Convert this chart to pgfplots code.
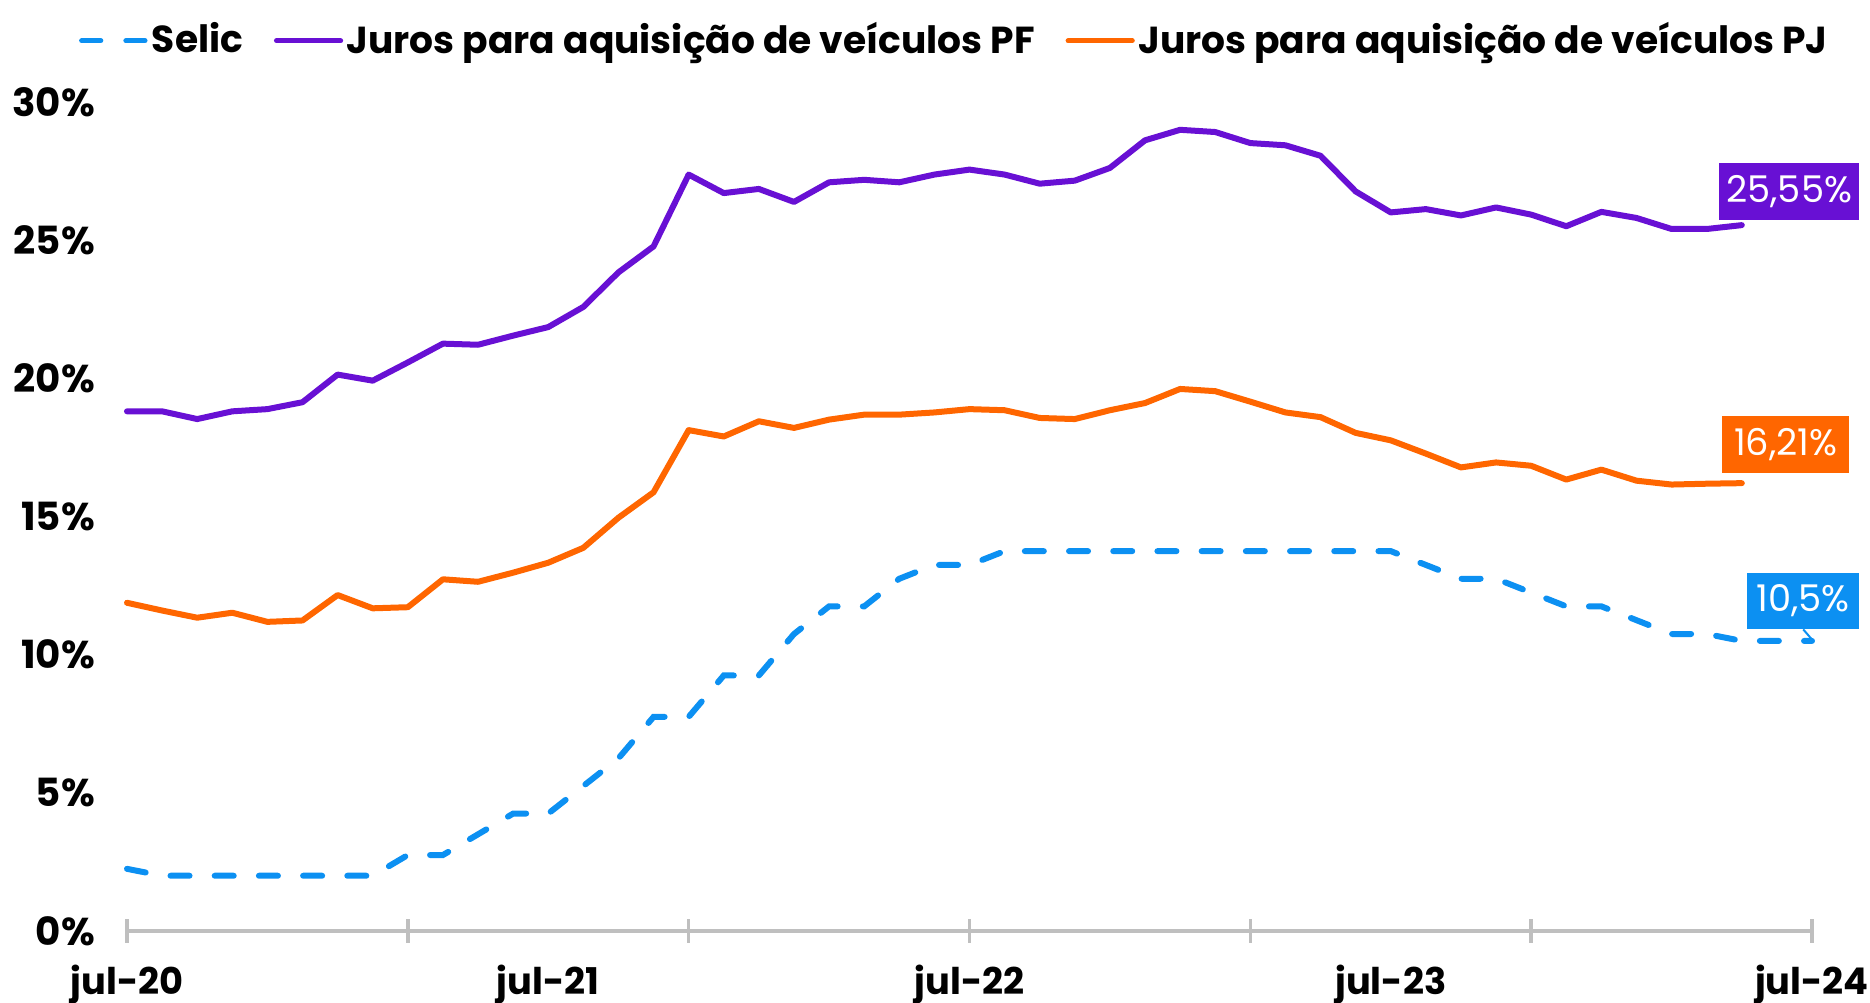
\documentclass[border=0pt]{standalone}
\usepackage{fontspec}
\setmainfont{Poppins}
\usepackage{pgfplots}
\pgfplotsset{compat=1.18}
\definecolor{selic}{RGB}{12,144,242}
\definecolor{pf}{RGB}{104,16,212}
\definecolor{pj}{RGB}{255,102,0}
\definecolor{axgray}{RGB}{191,191,191}

\pgfplotstableread{
m v
0 18.81
1 18.81
2 18.53
3 18.81
4 18.89
5 19.14
6 20.14
7 19.92
8 20.58
9 21.26
10 21.22
11 21.55
12 21.86
13 22.59
14 23.84
15 24.78
16 27.38
17 26.71
18 26.86
19 26.39
20 27.10
21 27.19
22 27.10
23 27.38
24 27.56
25 27.38
26 27.05
27 27.16
28 27.62
29 28.62
30 29.00
31 28.92
32 28.52
33 28.44
34 28.06
35 26.77
36 26.01
37 26.13
38 25.90
39 26.19
40 25.93
41 25.51
42 26.03
43 25.81
44 25.41
45 25.41
46 25.55
}\pftable

\pgfplotstableread{
m v
0 11.88
1 11.60
2 11.34
3 11.52
4 11.19
5 11.24
6 12.16
7 11.68
8 11.72
9 12.73
10 12.64
11 12.97
12 13.33
13 13.87
14 14.96
15 15.88
16 18.13
17 17.90
18 18.45
19 18.21
20 18.51
21 18.69
22 18.69
23 18.77
24 18.89
25 18.85
26 18.57
27 18.53
28 18.85
29 19.11
30 19.62
31 19.54
32 19.16
33 18.77
34 18.60
35 18.03
36 17.76
37 17.28
38 16.78
39 16.96
40 16.84
41 16.34
42 16.70
43 16.30
44 16.16
45 16.19
46 16.21
}\pjtable

\pgfplotstableread{
m v
0 2.25
1 2.00
2 2.00
3 2.00
4 2.00
5 2.00
6 2.00
7 2.00
8 2.75
9 2.75
10 3.50
11 4.25
12 4.25
13 5.25
14 6.25
15 7.75
16 7.75
17 9.25
18 9.25
19 10.75
20 11.75
21 11.75
22 12.75
23 13.25
24 13.25
25 13.75
26 13.75
27 13.75
28 13.75
29 13.75
30 13.75
31 13.75
32 13.75
33 13.75
34 13.75
35 13.75
36 13.75
37 13.25
38 12.75
39 12.75
40 12.25
41 11.75
42 11.75
43 11.25
44 10.75
45 10.75
46 10.50
47 10.50
48 10.50
}\selictable

\begin{document}
\begin{tikzpicture}[x=1pt,y=1pt]
\path[use as bounding box] (0,0) rectangle (467.5,250.75);
\begin{axis}[
  at={(31.75pt,18pt)}, anchor=south west,
  scale only axis, width=421.25pt, height=207.2pt,
  xmin=0, xmax=48, ymin=0, ymax=30,
  clip=false,
  axis lines*=left,
  x axis line style={draw=axgray, line width=0.9pt},
  y axis line style={draw=none},
  ytick={0,5,...,30},
  yticklabel={\pgfmathprintnumber{\tick}\%},
  ytick style={draw=none},
  xtick={0,8,...,48},
  xticklabels={},
  xtick style={draw=axgray, line width=0.9pt},
  tick align=center,
  major tick length=6pt,
  extra x ticks={0,12,24,36,48},
  extra x tick labels={jul-20,jul-21,jul-22,jul-23,jul-24},
  extra x tick style={major tick length=0pt, tick style={draw=none}},
  /pgf/number format/assume math mode=true,
  xticklabel style={font=\bfseries\fontsize{9.2}{11}\selectfont, text=black, yshift=-5pt},
  yticklabel style={font=\bfseries\fontsize{9.7}{11}\selectfont, text=black, xshift=-1.5pt},
  legend style={at={(0.4915,1)}, anchor=south, yshift=6.5pt, draw=none, fill=none,
    font=\bfseries\fontsize{9.4}{11}\selectfont, legend columns=3,
    nodes={inner xsep=0.9pt},
    /tikz/every even column/.append style={column sep=6.8pt}},
  legend image code/.code={\draw[#1, line width=1.3pt] (0pt,0pt) -- (16pt,0pt);},
]
\addplot[selic, line width=1.5pt, line cap=round, dash pattern=on 4.75pt off 6.3pt] table[x=m,y=v] {\selictable};
\addlegendentry{Selic}
\addplot[pf, line width=1.5pt, line join=round, line cap=round] table[x=m,y=v] {\pftable};
\addlegendentry{Juros para aquisição de veículos PF}
\addplot[pj, line width=1.5pt, line join=round, line cap=round] table[x=m,y=v] {\pjtable};
\addlegendentry{Juros para aquisição de veículos PJ}

\node[fill=pf, text=white, inner sep=0pt, minimum width=35pt, minimum height=14.25pt, font=\fontsize{9.2}{10}\selectfont] at (axis cs:47.35,26.76) {25,55\%};
\node[fill=pj, text=white, inner sep=0pt, minimum width=31.6pt, minimum height=14.25pt, font=\fontsize{9.2}{10}\selectfont] at (axis cs:47.25,17.6) {16,21\%};
\node[fill=selic, text=white, inner sep=0pt, minimum width=28pt, minimum height=14pt, font=\fontsize{9.2}{10}\selectfont] (sl) at (axis cs:47.75,11.96) {10,5\%};
\draw[selic, line width=0.5pt] (sl.south) -- (axis cs:48,10.55);
\end{axis}
\end{tikzpicture}
\end{document}
